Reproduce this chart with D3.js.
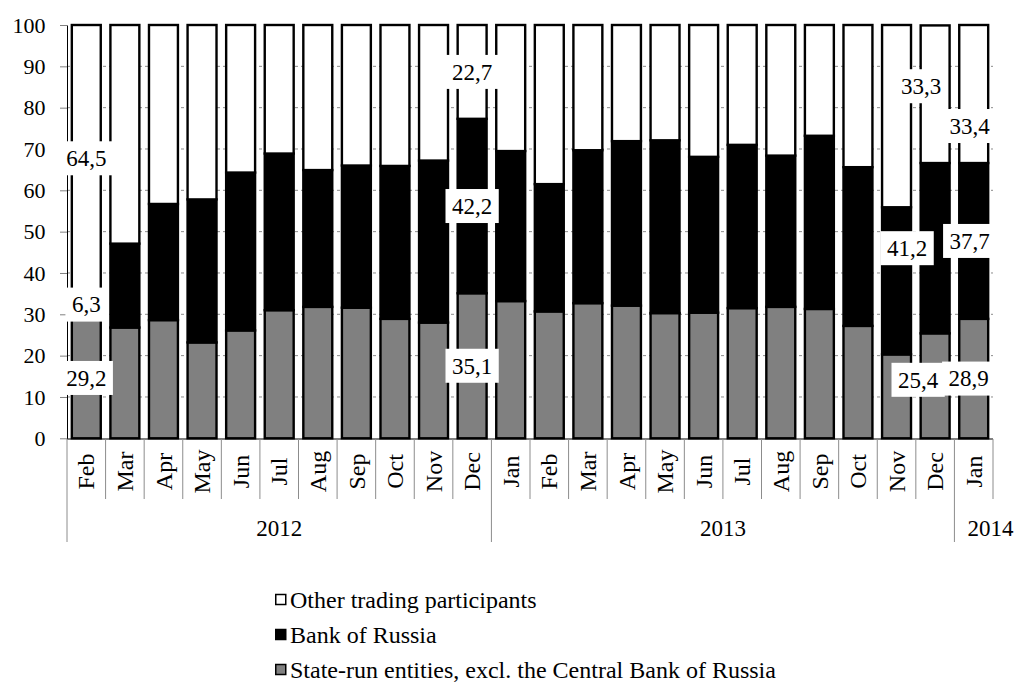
<!DOCTYPE html>
<html>
<head>
<meta charset="utf-8">
<script src="https://cdn.jsdelivr.net/npm/d3@7"></script>
<style>
  body { margin: 0; background: #fff; }
  svg { display: block; }
</style>
</head>
<body>
<svg id="chart" width="1017" height="684"></svg>
<script>
// Monthly shares of trading volume, per cent
const months = ["Feb","Mar","Apr","May","Jun","Jul","Aug","Sep","Oct","Nov","Dec",
                "Jan","Feb","Mar","Apr","May","Jun","Jul","Aug","Sep","Oct","Nov","Dec",
                "Jan"];
const years = ["2012","2012","2012","2012","2012","2012","2012","2012","2012","2012","2012",
               "2013","2013","2013","2013","2013","2013","2013","2013","2013","2013","2013","2013",
               "2014"];
const stateRun = [29.2, 26.8, 28.6, 23.2, 26.1, 31.0, 31.8, 31.6, 28.9, 28.0, 35.1,
                  33.2, 30.7, 32.7, 32.1, 30.3, 30.4, 31.5, 31.8, 31.3, 27.2, 20.3, 25.4,
                  28.9];
const bankOfRussia = [6.3, 20.3, 28.1, 34.6, 38.2, 37.9, 33.1, 34.4, 37.0, 39.2, 42.2,
                      36.3, 30.8, 37.0, 39.8, 41.8, 37.7, 39.5, 36.6, 41.9, 38.4, 35.6, 41.2,
                      37.7];
const otherParticipants = [64.5, 52.9, 43.3, 42.2, 35.7, 31.1, 35.1, 34.0, 34.1, 32.8, 22.7,
                           30.5, 38.5, 30.3, 28.1, 27.9, 31.9, 29.0, 31.6, 26.8, 34.4, 44.1, 33.3,
                           33.4];
const seriesNames = ["State-run entities, excl. the Central Bank of Russia", "Bank of Russia", "Other trading participants"];
const seriesFills = ["#808080", "#000000", "#ffffff"];
const yTicks = [0, 10, 20, 30, 40, 50, 60, 70, 80, 90, 100];
// months whose segments carry value labels
const labelledMonths = [0, 10, 22, 23];

const FONT = "'Liberation Serif', Tinos, 'Times New Roman', 'DejaVu Serif', serif";

const svg = d3.select("#chart").style("font-family", FONT);
const n = months.length;

const x = d3.scaleBand()
  .domain(d3.range(n))
  .range([67, 993])
  .paddingInner(0.25)
  .paddingOuter(0.125);
const y = d3.scaleLinear().domain([0, 100]).range([438.3, 25]);

// gridlines
svg.append("g")
  .selectAll("line")
  .data(yTicks.filter(t => t > 0 && t < 100))
  .join("line")
  .attr("x1", 67).attr("x2", 993)
  .attr("y1", d => y(d)).attr("y2", d => y(d))
  .attr("stroke", "#8c8c8c")
  .attr("stroke-width", 1)
  .attr("stroke-dasharray", "3,3");

// stacked data
const rows = months.map((m, i) => ({ i, s0: stateRun[i], s1: bankOfRussia[i], s2: otherParticipants[i] }));
const stack = d3.stack().keys(["s0", "s1", "s2"]);
const layers = stack(rows);

const barG = svg.append("g");
layers.forEach((layer, k) => {
  barG.append("g")
    .selectAll("rect")
    .data(layer)
    .join("rect")
    .attr("x", d => x(d.data.i))
    .attr("width", x.bandwidth())
    .attr("y", d => y(d[1]))
    .attr("height", d => y(d[0]) - y(d[1]))
    .attr("fill", seriesFills[k])
    .attr("stroke", "#000")
    .attr("stroke-width", 2.4);
});

// y axis
const yAxis = svg.append("g")
  .attr("transform", "translate(67,0)")
  .call(d3.axisLeft(y).tickValues(yTicks).tickSize(7).tickSizeOuter(0).tickPadding(14.5));
yAxis.attr("font-family", null).attr("font-size", null);
yAxis.select(".domain").attr("stroke", "#000").attr("stroke-width", 1);
yAxis.selectAll(".tick line").attr("stroke", "#808080");
yAxis.selectAll(".tick text")
  .style("font-family", FONT)
  .style("font-size", "22px")
  .attr("fill", "#000");

// x axis line
svg.append("line")
  .attr("x1", 67).attr("x2", 993)
  .attr("y1", 439).attr("y2", 439)
  .attr("stroke", "#000").attr("stroke-width", 1);

// category separators: short between months, long at year boundaries
const step = x.step();
const x0 = x.range()[0];
const boundaries = d3.range(n + 1).map(i => ({
  i,
  pos: x0 + i * step,
  yearStart: i < n && (i === 0 || years[i] !== years[i - 1])
}));
svg.append("g")
  .selectAll("line")
  .data(boundaries)
  .join("line")
  .attr("x1", d => d.pos).attr("x2", d => d.pos)
  .attr("y1", 439)
  .attr("y2", d => d.yearStart ? 542 : 499)
  .attr("stroke", "#8c8c8c")
  .attr("stroke-width", 1);

// month labels
svg.append("g")
  .selectAll("text")
  .data(months)
  .join("text")
  .attr("transform", (d, i) => `translate(${x(i) + x.bandwidth() / 2},471.5) rotate(-90)`)
  .attr("text-anchor", "middle")
  .attr("dy", "0.34em")
  .style("font-family", FONT)
  .style("font-size", "24px")
  .text(d => d);

// year labels
const yearGroups = d3.groups(d3.range(n), i => years[i]).map(([yr, idx]) => ({
  yr,
  start: x0 + idx[0] * step,
  end: x0 + (idx[idx.length - 1] + 1) * step,
  narrow: idx.length < 3
}));
svg.append("g")
  .selectAll("text")
  .data(yearGroups)
  .join("text")
  .attr("x", d => d.narrow ? d.start + 13 : (d.start + d.end) / 2)
  .attr("y", 528)
  .attr("dy", "0.34em")
  .attr("text-anchor", d => d.narrow ? "start" : "middle")
  .style("font-family", FONT)
  .style("font-size", "23px")
  .text(d => d.yr);

// value labels in white boxes
const fmt = v => d3.format(".1f")(v).replace(".", ",");
const labelNudge = {
  "22-0": [-17, -6], "22-1": [-28, 0], "22-2": [-14, -8],
  "23-0": [-5, 0], "23-1": [-4, 0], "23-2": [-4, 32]
};
const labelData = [];
labelledMonths.forEach(i => {
  layers.forEach((layer, k) => {
    const d = layer[i];
    const nudge = labelNudge[`${i}-${k}`] || [0, 0];
    labelData.push({
      cx: x(i) + x.bandwidth() / 2 + nudge[0],
      cy: y((d[0] + d[1]) / 2) + nudge[1],
      text: fmt(d[1] - d[0])
    });
  });
});
const lab = svg.append("g")
  .selectAll("g")
  .data(labelData)
  .join("g")
  .attr("transform", d => `translate(${d.cx},${d.cy})`);
lab.append("rect").attr("fill", "#fff");
lab.append("text")
  .attr("text-anchor", "middle")
  .attr("dy", "0.34em")
  .style("font-family", FONT)
  .style("font-size", "23px")
  .text(d => d.text);
lab.each(function () {
  const g = d3.select(this);
  const w = g.select("text").node().getComputedTextLength() + 13;
  const h = 34;
  g.select("rect").attr("x", -w / 2).attr("y", -h / 2).attr("width", w).attr("height", h);
});

// legend
const legendOrder = [2, 1, 0];
const leg = svg.append("g")
  .selectAll("g")
  .data(legendOrder)
  .join("g")
  .attr("transform", (k, j) => `translate(275,${600 + j * 35})`);
leg.append("rect")
  .attr("x", 0.75).attr("y", -5.5)
  .attr("width", 10).attr("height", 10)
  .attr("fill", k => seriesFills[k])
  .attr("stroke", "#000")
  .attr("stroke-width", 1.5);
leg.append("text")
  .attr("x", 15)
  .attr("dy", "0.34em")
  .style("font-family", FONT)
  .style("font-size", "24px")
  .text(k => seriesNames[k]);
</script>
</body>
</html>
